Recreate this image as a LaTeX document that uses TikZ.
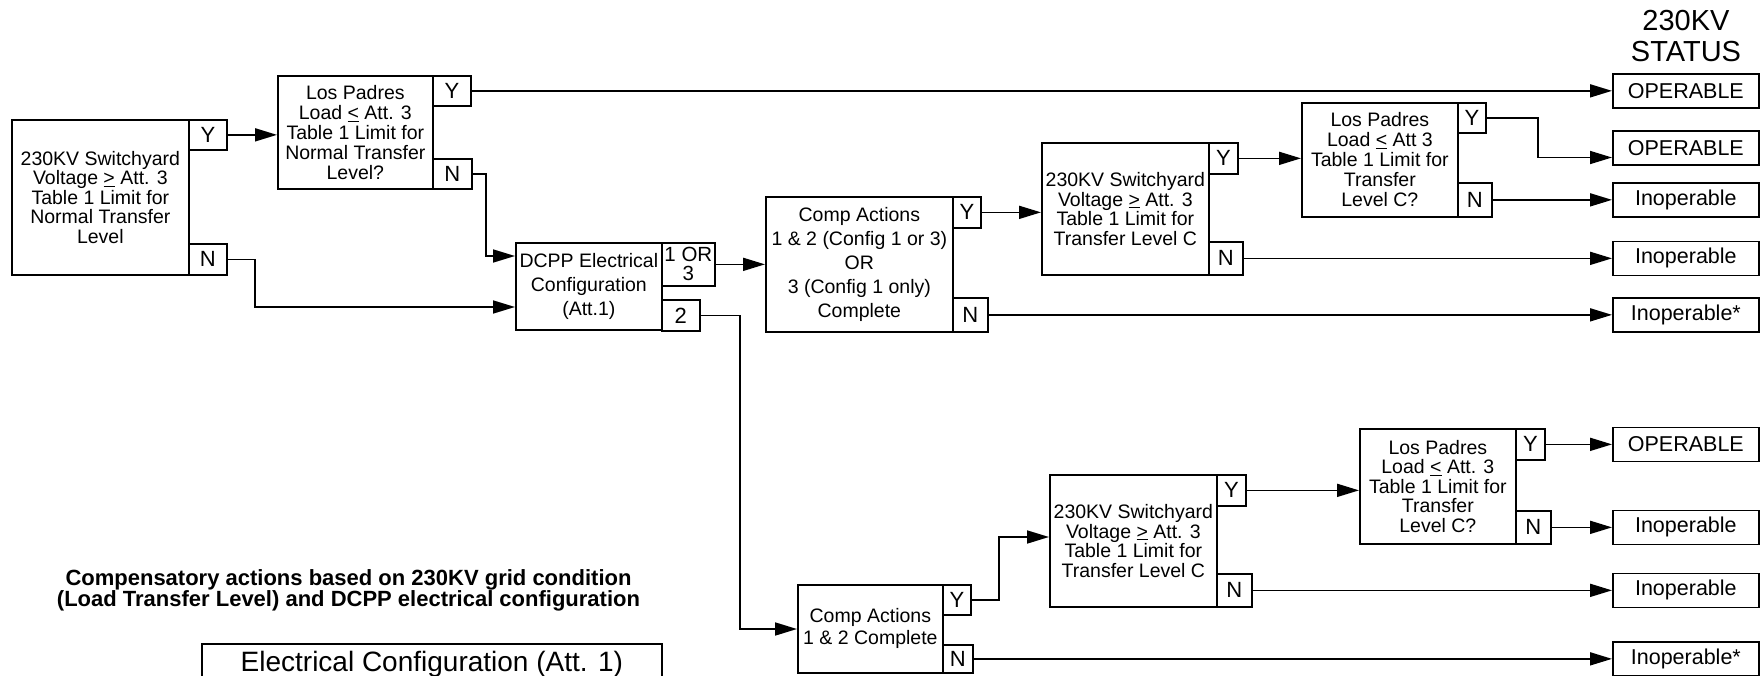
\documentclass[tikz,border=0pt]{standalone}
\usepackage{fontspec}
\setmainfont{Liberation Sans}
\usetikzlibrary{arrows.meta}
\begin{document}
\begin{tikzpicture}[x=1pt,y=-1pt,
  box/.style={draw, line width=1.7pt, inner sep=0pt, anchor=north west, align=center, font=\fontsize{19.5}{19.5}\selectfont},
  tag/.style={box, font=\fontsize{22}{19}\selectfont},
  outc/.style={box, font=\fontsize{21.5}{22}\selectfont, minimum width=146pt, minimum height=34pt},
  conn/.style={line width=1.7pt},
  arr/.style={conn, -{Triangle[length=22pt,width=13pt]}}
]
\useasboundingbox (0,0) rectangle (1762,675);
\clip (0,0) rectangle (1762,675);

% title
\node[font=\fontsize{29}{31}\selectfont, align=center, inner sep=0pt] (status) at (1686,36.5) {230KV\\STATUS};

% first decision
\node[box, minimum width=177pt, minimum height=155pt] (A) at (11,119) {230KV Switchyard\\Voltage \underline{>} Att. 3\\Table 1 Limit for\\Normal Transfer\\Level};
\node[tag, minimum width=38pt, minimum height=30pt] (aY) at (188,119) {Y};
\node[tag, minimum width=38pt, minimum height=31pt] (aN) at (188,243) {N};

\node[box, minimum width=155pt, minimum height=113pt, font=\fontsize{19.5}{20}\selectfont] (B) at (277,75) {Los Padres\\Load \underline{<} Att. 3\\Table 1 Limit for\\Normal Transfer\\Level?};
\node[tag, minimum width=38pt, minimum height=30pt] (bY) at (432,75) {Y};
\node[tag, minimum width=39pt, minimum height=30pt] (bN) at (432,158) {N};

\node[box, minimum width=146pt, minimum height=87pt, font=\fontsize{19.5}{24}\selectfont] (P) at (515,242) {DCPP Electrical\\Configuration\\(Att.1)};
\node[tag, minimum width=53pt, minimum height=43pt, font=\fontsize{20.5}{19}\selectfont] (p13) at (661,242) {1 OR\\3};
\node[tag, minimum width=38pt, minimum height=31pt] (p2) at (661,299) {2};

\node[box, minimum width=187pt, minimum height=135pt, font=\fontsize{19.5}{24}\selectfont] (K1) at (765,196) {Comp Actions\\1 \& 2 (Config 1 or 3)\\OR\\3 (Config 1 only)\\Complete};
\node[tag, minimum width=28pt, minimum height=31pt] (k1Y) at (952,196) {Y};
\node[tag, minimum width=35pt, minimum height=34pt] (k1N) at (952,297) {N};

\node[box, minimum width=167pt, minimum height=132pt] (C) at (1041,142) {230KV Switchyard\\Voltage \underline{>} Att. 3\\Table 1 Limit for\\Transfer Level C};
\node[tag, minimum width=29pt, minimum height=31pt] (cY) at (1208,142) {Y};
\node[tag, minimum width=34pt, minimum height=33pt] (cN) at (1208,241) {N};

\node[box, minimum width=156pt, minimum height=114pt, font=\fontsize{19.5}{20}\selectfont] (D) at (1301,102) {Los Padres\\Load \underline{<} Att 3\\Table 1 Limit for\\Transfer\\Level C?};
\node[tag, minimum width=28pt, minimum height=30pt] (dY) at (1457,102) {Y};
\node[tag, minimum width=34pt, minimum height=34pt] (dN) at (1457,182) {N};

\node[box, minimum width=145pt, minimum height=88pt, font=\fontsize{19.5}{22}\selectfont] (K2) at (797,584) {Comp Actions\\1 \& 2 Complete};
\node[tag, minimum width=28pt, minimum height=30pt] (k2Y) at (942,584) {Y};
\node[tag, minimum width=30pt, minimum height=28pt] (k2N) at (942,644) {N};

\node[box, minimum width=167pt, minimum height=132pt] (E) at (1049,474) {230KV Switchyard\\Voltage \underline{>} Att. 3\\Table 1 Limit for\\Transfer Level C};
\node[tag, minimum width=29pt, minimum height=31pt] (eY) at (1216,474) {Y};
\node[tag, minimum width=35pt, minimum height=33pt] (eN) at (1216,573) {N};

\node[box, minimum width=156pt, minimum height=115pt] (F) at (1359,428) {Los Padres\\Load \underline{<} Att. 3\\Table 1 Limit for\\Transfer\\Level C?};
\node[tag, minimum width=29pt, minimum height=31pt] (fY) at (1515,428) {Y};
\node[tag, minimum width=35pt, minimum height=33pt] (fN) at (1515,510) {N};

% outcomes
\node[outc] (op1) at (1612,73) {OPERABLE};
\node[outc] (op2) at (1612,130) {OPERABLE};
\node[outc] (oIn1) at (1612,182) {Inoperable};
\node[outc] (oIn2) at (1612,240.5) {Inoperable};
\node[outc] (oS1) at (1612,297) {Inoperable*};
\node[outc] (op3) at (1612,426.5) {OPERABLE};
\node[outc] (oIn3) at (1612,509.5) {Inoperable};
\node[outc] (oIn4) at (1612,572.5) {Inoperable};
\node[outc] (oS2) at (1612,641) {Inoperable*};

% notes
\node[font=\fontsize{22}{21}\selectfont\bfseries, align=center, inner sep=0pt] (note) at (348.5,590) {Compensatory actions based on 230KV grid condition\\(Load Transfer Level) and DCPP electrical configuration};
\node[draw, line width=1.7pt, anchor=north west, minimum width=460pt, inner xsep=0pt, inner ysep=7.5pt, font=\fontsize{28}{28}\selectfont] (ec) at (201,643) {Electrical Configuration (Att. 1)};

% connectors
\coordinate (j1) at (255,307);
\coordinate (j2) at (486,256);
\coordinate (j3) at (740,629);
\coordinate (j4) at (1538,157.5);
\coordinate (j5) at (999,537);
\draw[arr] (aY.east) -- (aY.east -| B.west);
\draw[arr] (aN.east) -| (j1) -- (j1 -| P.west);
\draw[arr] (bY.east) -- (bY.east -| op1.west);
\draw[arr] (bN.east) -| (j2) -- (j2 -| P.west);
\draw[arr] (p13.east) -- (p13.east -| K1.west);
\draw[arr] (p2.east) -| (j3) -- (j3 -| K2.west);
\draw[arr] (k1Y.east) -- (k1Y.east -| C.west);
\draw[arr] (k1N.east) -- (k1N.east -| oS1.west);
\draw[arr] (cY.east) -- (cY.east -| D.west);
\draw[arr] (dY.east) -| (j4) -- (j4 -| op2.west);
\draw[arr] (dN.east) -- (dN.east -| oIn1.west);
\draw[arr] (cN.east) -- (cN.east -| oIn2.west);
\draw[arr] (k2Y.east) -| (j5) -- (j5 -| E.west);
\draw[arr] (k2N.east) -- (k2N.east -| oS2.west);
\draw[arr] (eY.east) -- (eY.east -| F.west);
\draw[arr] (eN.east) -- (eN.east -| oIn4.west);
\draw[arr] (fY.east) -- (fY.east -| op3.west);
\draw[arr] (fN.east) -- (fN.east -| oIn3.west);
\end{tikzpicture}
\end{document}
